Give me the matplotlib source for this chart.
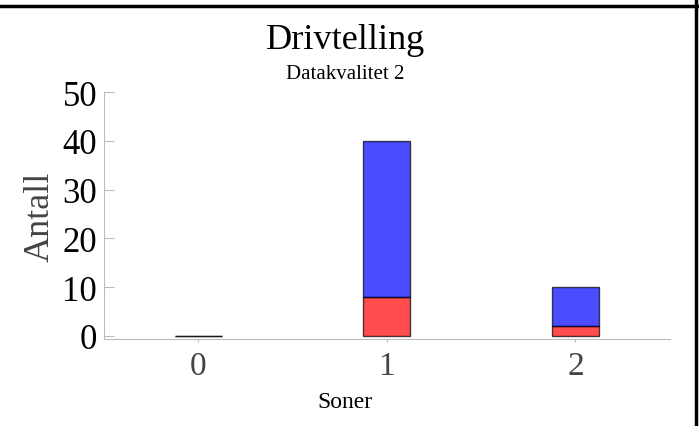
import matplotlib
matplotlib.use("Agg")
import matplotlib.pyplot as plt
from matplotlib.lines import Line2D

# data
soner = [0, 1, 2]
rod = [0, 8, 2]
blaa = [0, 32, 8]
yticks = [0, 10, 20, 30, 40, 50]

plt.rcParams['font.family'] = ['Liberation Serif', 'DejaVu Serif']

fig = plt.figure(figsize=(6.99, 4.27), dpi=100)
ax = fig.add_axes([0.149, 0.204, 0.809, 0.578])

ax.bar(soner, rod, width=0.25, color='red', alpha=0.7, edgecolor='black', linewidth=1)
ax.bar(soner, blaa, width=0.25, bottom=rod, color='blue', alpha=0.7, edgecolor='black', linewidth=1)

ax.set_xlim(-0.5, 2.5)
ax.set_ylim(-0.6, 50)
ax.set_xticks(soner)
ax.set_yticks(yticks)
ax.tick_params(axis='y', direction='in', length=7, color='#bbbbbb', labelsize=25, pad=5)
ax.tick_params(axis='x', direction='out', length=2, color='#bbbbbb', labelsize=24,
               labelcolor='#444444', pad=6)
for s in ['top', 'right']:
    ax.spines[s].set_visible(False)
for s in ['left', 'bottom']:
    ax.spines[s].set_color('#bbbbbb')

ax.set_ylabel('Antall', fontsize=26, color='#444444', labelpad=4)
fig.text(0.494, 0.885, 'Drivtelling', fontsize=26, ha='center', va='baseline')
fig.text(0.494, 0.815, 'Datakvalitet 2', fontsize=15, ha='center', va='baseline')
fig.text(0.494, 0.058, 'Soner', fontsize=17, ha='center', va='center')

# border lines (top and right only)
fig.add_artist(Line2D([0, 1], [0.984, 0.984], transform=fig.transFigure, color='black', lw=2.5))
fig.add_artist(Line2D([0.996, 0.996], [0, 1], transform=fig.transFigure, color='black', lw=2.5))

fig.savefig('out.png', dpi=100)
